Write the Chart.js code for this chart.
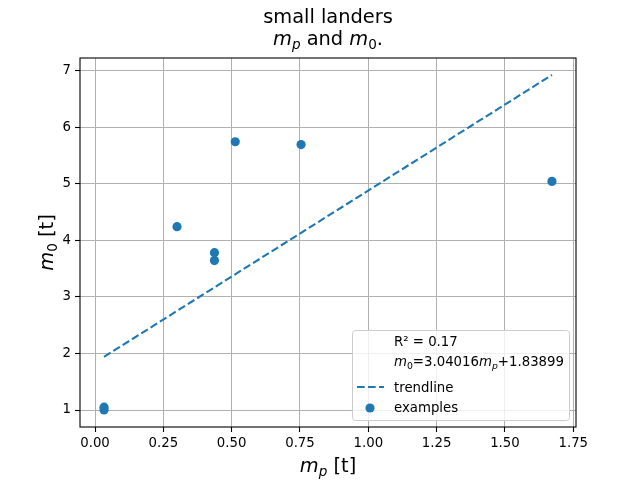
<!DOCTYPE html>
<html lang="en">
<head>
<meta charset="UTF-8">
<title>small landers</title>
<script src="https://cdn.jsdelivr.net/npm/chart.js"></script>
<style>
  body { margin: 0; background: white; }
</style>
</head>
<body>
<canvas id="chart" width="640" height="480"></canvas>
<script>
// values
const mpValues = [0.033, 0.033, 0.300, 0.437, 0.437, 0.513, 0.754, 1.672];
const m0Values = [1.00, 1.05, 4.24, 3.78, 3.64, 5.74, 5.69, 5.04];
const trendX = [0.033, 1.672];
const trendY = [1.94, 6.92];
const xTicks = [0, 0.25, 0.5, 0.75, 1.0, 1.25, 1.5, 1.75];
const yTicks = [1, 2, 3, 4, 5, 6, 7];
const r2Text = 'R\u00b2 = 0.17';

const BLUE = '#1f77b4';
const FONT = "'DejaVu Sans', sans-serif";

// rich text: segments of [text, style], style 'i' italic, 'si' italic subscript, 's' subscript
function segFont(style, size) {
    const sub = style.indexOf('s') >= 0;
    const it = style.indexOf('i') >= 0;
    return (it ? 'italic ' : '') + (sub ? size * 0.7 : size) + 'px ' + FONT;
}
function richWidth(ctx, segs, size) {
    let w = 0;
    segs.forEach(([t, st]) => { ctx.font = segFont(st, size); w += ctx.measureText(t).width; });
    return w;
}
function drawRich(ctx, segs, x, y, size, align) {
    ctx.save();
    ctx.fillStyle = 'black';
    ctx.textBaseline = 'alphabetic';
    ctx.textAlign = 'left';
    let cx = x;
    if (align === 'center') cx = x - richWidth(ctx, segs, size) / 2;
    segs.forEach(([t, st]) => {
        ctx.font = segFont(st, size);
        const dy = st.indexOf('s') >= 0 ? size * 0.22 : 0;
        ctx.fillText(t, cx, y + dy);
        cx += ctx.measureText(t).width;
    });
    ctx.restore();
}

const decorPlugin = {
    id: 'decor',
    afterDraw(chart) {
        const ctx = chart.ctx;
        const a = chart.chartArea;
        const midX = (a.left + a.right) / 2;
        const midY = (a.top + a.bottom) / 2;

        // axes frame
        ctx.save();
        ctx.strokeStyle = 'black';
        ctx.lineWidth = 1.1;
        ctx.strokeRect(a.left, a.top, a.right - a.left, a.bottom - a.top);
        ctx.restore();

        // title
        drawRich(ctx, [['small landers', '']], midX, 22.5, 19.4, 'center');
        drawRich(ctx, [['m', 'i'], ['p', 'si'], [' and ', ''], ['m', 'i'], ['0', 's'], ['.', '']], midX, 45, 19.4, 'center');

        // axis labels
        drawRich(ctx, [['m', 'i'], ['p', 'si'], [' [t]', '']], midX, 472, 19.4, 'center');
        ctx.save();
        ctx.translate(53, midY);
        ctx.rotate(-Math.PI / 2);
        drawRich(ctx, [['m', 'i'], ['0', 's'], [' [t]', '']], 0, 0, 19.4, 'center');
        ctx.restore();

        // legend
        ctx.save();
        ctx.fillStyle = 'rgba(255,255,255,0.8)';
        ctx.strokeStyle = '#cccccc';
        ctx.lineWidth = 1;
        ctx.beginPath();
        ctx.roundRect(352.5, 330.5, 217, 90, 3);
        ctx.fill();
        ctx.stroke();
        ctx.restore();

        const fs = 13.3;
        drawRich(ctx, [[r2Text, '']], 394, 346, fs, 'left');
        drawRich(ctx, [['m', 'i'], ['0', 's'], ['=3.04016', ''], ['m', 'i'], ['p', 'si'], ['+1.83899', '']], 394, 366, fs, 'left');
        drawRich(ctx, [['trendline', '']], 394, 392, fs, 'left');
        drawRich(ctx, [['examples', '']], 394, 412, fs, 'left');

        ctx.save();
        ctx.strokeStyle = BLUE;
        ctx.lineWidth = 2.1;
        ctx.setLineDash([7.7, 3.3]);
        ctx.beginPath();
        ctx.moveTo(357, 387);
        ctx.lineTo(384, 387);
        ctx.stroke();
        ctx.fillStyle = BLUE;
        ctx.beginPath();
        ctx.arc(370, 408, 4.6, 0, Math.PI * 2);
        ctx.fill();
        ctx.restore();
    }
};

new Chart(document.getElementById('chart').getContext('2d'), {
    type: 'scatter',
    data: {
        datasets: [
            {
                type: 'line',
                label: 'trendline',
                data: trendX.map((x, i) => ({ x: x, y: trendY[i] })),
                borderColor: BLUE,
                borderWidth: 2.1,
                borderDash: [7.7, 3.3],
                pointRadius: 0,
                fill: false
            },
            {
                label: 'examples',
                data: mpValues.map((x, i) => ({ x: x, y: m0Values[i] })),
                backgroundColor: BLUE,
                borderColor: BLUE,
                pointRadius: 4.6,
                pointBorderWidth: 0
            }
        ]
    },
    options: {
        responsive: false,
        animation: false,
        devicePixelRatio: 1,
        layout: { padding: { top: 58, right: 64, left: 0, bottom: 0 } },
        plugins: {
            legend: { display: false },
            title: { display: false },
            tooltip: { enabled: false }
        },
        scales: {
            x: {
                type: 'linear',
                min: -0.055,
                max: 1.76,
                afterBuildTicks: s => { s.ticks = xTicks.map(v => ({ value: v })); },
                afterFit: s => { s.height = 53; },
                ticks: {
                    callback: v => Number(v).toFixed(2),
                    color: 'black',
                    font: { family: FONT, size: 13.3 },
                    padding: 4,
                    maxRotation: 0
                },
                grid: { color: '#b0b0b0', lineWidth: 1, tickColor: 'black', tickLength: 5, tickWidth: 1.1 },
                border: { display: false }
            },
            y: {
                type: 'linear',
                min: 0.70,
                max: 7.22,
                afterBuildTicks: s => { s.ticks = yTicks.map(v => ({ value: v })); },
                afterFit: s => { s.width = 80; },
                ticks: {
                    callback: v => String(v),
                    color: 'black',
                    font: { family: FONT, size: 13.3 },
                    padding: 4
                },
                grid: { color: '#b0b0b0', lineWidth: 1, tickColor: 'black', tickLength: 5, tickWidth: 1.1 },
                border: { display: false }
            }
        }
    },
    plugins: [decorPlugin]
});
</script>
</body>
</html>
